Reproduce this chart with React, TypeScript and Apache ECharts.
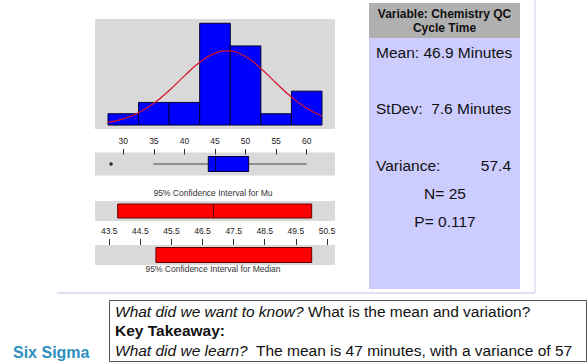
import React, { useEffect, useRef } from "react";
import * as echarts from "echarts";

// ---- data ----
const binCenters = [30, 35, 40, 45, 50, 55, 60];
const binCounts = [1, 2, 2, 9, 7, 1, 3];
const binWidth = 5;
const histTicks = [30, 35, 40, 45, 50, 55, 60];

// fitted normal curve
const curveX = [27.5, 30, 32.5, 35, 37.5, 40, 42.5, 45, 46.9, 50, 52.5, 55, 57.5, 60, 62.5];
const curveY = [0.25, 0.55, 1.09, 1.93, 3.05, 4.35, 5.55, 6.36, 6.56, 6.04, 5.0, 3.72, 2.48, 1.49, 0.8];

// boxplot: [whisker low, Q1, median, Q3, whisker high]
const boxStats = [34.9, 43.9, 45.1, 50.5, 60];
const outliers = [28];

// confidence intervals: [low, high, centre]
const ciMu = [43.77, 50.01, 46.85];
const ciMedian = [45.0, 50.01];
const ciTicks = [43.5, 44.5, 45.5, 46.5, 47.5, 48.5, 49.5, 50.5];

const statsTitle = ["Variable: Chemistry QC", "Cycle Time"];
const statMean = "Mean: 46.9 Minutes";
const statStDev = "StDev:  7.6 Minutes";
const statVarLabel = "Variance:";
const statVarValue = "57.4";
const statN = "N= 25";
const statP = "P= 0.117";

const FONT = 'Arial, "Liberation Sans", sans-serif';

export default function App() {
  const ref = useRef<HTMLDivElement>(null);

  useEffect(() => {
    if (!ref.current) return;
    const chart = echarts.init(ref.current, null, { renderer: "svg" });

    const histMin = 25.37, histMax = 64.63;
    const ciMin = 43.04, ciMax = 50.76;
    const gx = { left: 95, width: 240 };
    const bg = "#d9d9d9";

    const hiddenAxis = (gridIndex: number, min: number, max: number) => ({
      type: "value", gridIndex, min, max, show: false,
      splitLine: { show: false },
    });

    const tickAxis = (gridIndex: number, min: number, max: number, ticks: number[], position: string, withLabel: boolean, len: number, fmt?: (v: number) => string) => ({
      type: "value", gridIndex, min, max, position,
      axisLine: { show: false },
      splitLine: { show: false },
      axisTick: { show: true, inside: true, length: len, lineStyle: { color: "#333", width: 1 }, customValues: ticks },
      axisLabel: withLabel
        ? { show: true, inside: true, margin: 3, fontSize: 8.5, color: "#222", fontFamily: FONT, customValues: ticks, formatter: fmt ? (v: number) => fmt(v) : undefined }
        : { show: false },
    });

    const txt = (x: number, y: number, text: string, size: number, align: string, extra: any = {}) => ({
      type: "text", x, y,
      style: { text, fontSize: size, fontFamily: FONT, fill: "#111", align, verticalAlign: "middle", ...extra },
    });

    const option: any = {
      animation: false,
      backgroundColor: "#ffffff",
      grid: [
        { ...gx, top: 19, height: 110, show: true, backgroundColor: bg, borderWidth: 0 }, // 0 histogram
        { ...gx, top: 133, height: 19, show: false }, // 1 tick strip
        { ...gx, top: 152.5, height: 23, show: true, backgroundColor: bg, borderWidth: 0 }, // 2 boxplot
        { ...gx, top: 201, height: 20, show: true, backgroundColor: bg, borderWidth: 0 }, // 3 CI mu
        { ...gx, top: 223, height: 19, show: false }, // 4 tick strip
        { ...gx, top: 245, height: 20, show: true, backgroundColor: bg, borderWidth: 0 }, // 5 CI median
      ],
      xAxis: [
        hiddenAxis(0, histMin, histMax),
        tickAxis(1, histMin, histMax, histTicks, "top", true, 2.5),
        tickAxis(1, histMin, histMax, histTicks, "bottom", false, 3),
        hiddenAxis(2, histMin, histMax),
        hiddenAxis(3, ciMin, ciMax),
        tickAxis(4, ciMin, ciMax, ciTicks, "top", true, 3, (v) => v.toFixed(1)),
        tickAxis(4, ciMin, ciMax, ciTicks, "bottom", false, 3),
        hiddenAxis(5, ciMin, ciMax),
      ],
      yAxis: [
        hiddenAxis(0, -0.35, 9.38),
        hiddenAxis(1, 0, 1),
        hiddenAxis(2, 0, 1),
        hiddenAxis(3, 0, 1),
        hiddenAxis(4, 0, 1),
        hiddenAxis(5, 0, 1),
      ],
      series: [
        {
          type: "custom",
          xAxisIndex: 0, yAxisIndex: 0,
          data: binCenters.map((c, i) => [c, binCounts[i]]),
          renderItem: (params: any, api: any) => {
            const c = api.value(0), n = api.value(1);
            const p0 = api.coord([c - binWidth / 2, n]);
            const p1 = api.coord([c + binWidth / 2, 0]);
            return {
              type: "rect",
              shape: { x: p0[0], y: p0[1], width: p1[0] - p0[0], height: p1[1] - p0[1] },
              style: { fill: "#0000ff", stroke: "#000030", lineWidth: 1 },
            };
          },
          z: 2,
        },
        {
          type: "line",
          xAxisIndex: 0, yAxisIndex: 0,
          data: curveX.map((x, i) => [x, curveY[i]]),
          smooth: true,
          showSymbol: false,
          lineStyle: { color: "#d8102a", width: 1.2 },
          z: 3,
        },
        {
          type: "custom",
          xAxisIndex: 3, yAxisIndex: 2,
          data: [boxStats],
          renderItem: (params: any, api: any) => {
            const lo = api.coord([api.value(0), 0.5]);
            const q1 = api.coord([api.value(1), 0.5]);
            const md = api.coord([api.value(2), 0.5]);
            const q3 = api.coord([api.value(3), 0.5]);
            const hi = api.coord([api.value(4), 0.5]);
            const h = 15;
            return {
              type: "group",
              children: [
                { type: "line", shape: { x1: lo[0], y1: lo[1], x2: q1[0], y2: q1[1] }, style: { stroke: "#444", lineWidth: 1 } },
                { type: "line", shape: { x1: q3[0], y1: q3[1], x2: hi[0], y2: hi[1] }, style: { stroke: "#444", lineWidth: 1 } },
                { type: "rect", shape: { x: q1[0], y: q1[1] - h / 2, width: q3[0] - q1[0], height: h }, style: { fill: "#0000ff", stroke: "#000040", lineWidth: 1 } },
                { type: "line", shape: { x1: md[0], y1: md[1] - h / 2, x2: md[0], y2: md[1] + h / 2 }, style: { stroke: "#000040", lineWidth: 1 } },
              ],
            };
          },
        },
        {
          type: "scatter",
          xAxisIndex: 3, yAxisIndex: 2,
          data: outliers.map((v) => [v, 0.5]),
          symbol: "circle",
          symbolSize: 3.5,
          itemStyle: { color: "#000" },
        },
        {
          type: "custom",
          xAxisIndex: 4, yAxisIndex: 3,
          data: [ciMu],
          renderItem: (params: any, api: any) => {
            const a = api.coord([api.value(0), 0.5]);
            const b = api.coord([api.value(1), 0.5]);
            const m = api.coord([api.value(2), 0.5]);
            const h = 14;
            return {
              type: "group",
              children: [
                { type: "rect", shape: { x: a[0], y: a[1] - h / 2, width: b[0] - a[0], height: h }, style: { fill: "#ff0000", stroke: "#660000", lineWidth: 1 } },
                { type: "line", shape: { x1: m[0], y1: m[1] - h / 2, x2: m[0], y2: m[1] + h / 2 }, style: { stroke: "#660000", lineWidth: 1 } },
              ],
            };
          },
        },
        {
          type: "custom",
          xAxisIndex: 7, yAxisIndex: 5,
          data: [ciMedian],
          renderItem: (params: any, api: any) => {
            const a = api.coord([api.value(0), 0.5]);
            const b = api.coord([api.value(1), 0.5]);
            const h = 15;
            return {
              type: "rect",
              shape: { x: a[0], y: a[1] - h / 2, width: b[0] - a[0], height: h },
              style: { fill: "#ff0000", stroke: "#660000", lineWidth: 1 },
            };
          },
        },
      ],
      graphic: [
        txt(213, 193, "95% Confidence Interval for Mu", 8.5, "center", { fill: "#333" }),
        txt(213, 269, "95% Confidence Interval for Median", 8.5, "center", { fill: "#333" }),
        // frame lines
        { type: "line", shape: { x1: 535, y1: 0, x2: 535, y2: 293 }, style: { stroke: "#dcdcf0", lineWidth: 1.5 } },
        { type: "line", shape: { x1: 57, y1: 293, x2: 535, y2: 293 }, style: { stroke: "#d4d4ee", lineWidth: 1.5 } },
        // stats panel
        { type: "rect", shape: { x: 369, y: 3, width: 151, height: 35 }, style: { fill: "#b0b0b0" } },
        { type: "rect", shape: { x: 369, y: 38, width: 151, height: 251 }, style: { fill: "#ccccff" } },
        txt(444.5, 14, statsTitle[0], 12, "center", { fontWeight: "bold" }),
        txt(444.5, 28, statsTitle[1], 12, "center", { fontWeight: "bold" }),
        txt(376, 52, statMean, 15.5, "left"),
        txt(376, 108.5, statStDev, 15.5, "left"),
        txt(376, 165.5, statVarLabel, 15.5, "left"),
        txt(511, 165.5, statVarValue, 15.5, "right"),
        txt(445, 193.5, statN, 15.5, "center"),
        txt(445, 221, statP, 15.5, "center"),
        // bottom text box
        txt(13, 352, "Six Sigma", 16, "left", { fontWeight: "bold", fill: "#2e8fc0" }),
        { type: "rect", shape: { x: 109.5, y: 300.5, width: 477, height: 61 }, style: { fill: "#fff", stroke: "#555", lineWidth: 1 } },
        txt(115, 311, "{i|What did we want to know?} What is the mean and variation?", 15.5, "left", {
          rich: { i: { fontStyle: "italic", fontSize: 15.5, fontFamily: FONT, fill: "#111" } },
        }),
        txt(115, 330, "Key Takeaway:", 15.5, "left", { fontWeight: "bold" }),
        txt(115, 350, "{i|What did we learn?}  The mean is 47 minutes, with a variance of 57", 15.5, "left", {
          rich: { i: { fontStyle: "italic", fontSize: 15.5, fontFamily: FONT, fill: "#111" } },
        }),
      ],
    };

    chart.setOption(option);
    return () => chart.dispose();
  }, []);

  return <div ref={ref} style={{ position: "fixed", left: 0, top: 0, width: 588, height: 364 }} />;
}
